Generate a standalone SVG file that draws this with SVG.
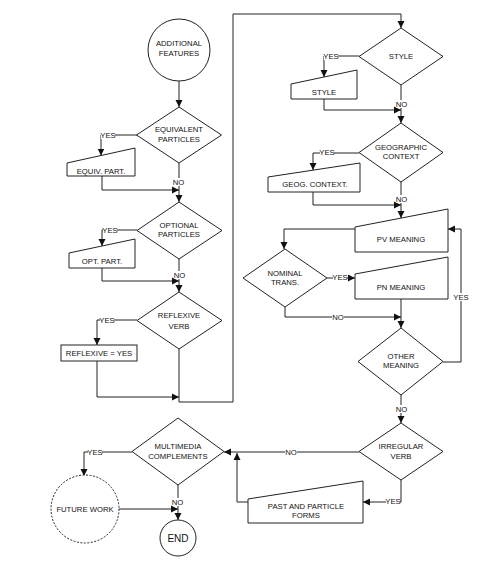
<svg xmlns="http://www.w3.org/2000/svg" width="481" height="561" viewBox="0 0 481 561">
<defs>
<marker id="arr" markerUnits="userSpaceOnUse" markerWidth="8" markerHeight="8" refX="7" refY="4" orient="auto">
<path d="M0,0.5 L7,4 L0,7.5 z" fill="#111"/>
</marker>
<style>
.s{fill:#fff;stroke:#222;stroke-width:1}
.d{fill:#fff;stroke:#222;stroke-width:1;stroke-dasharray:2,1.5}
.c{fill:none;stroke:#222;stroke-width:1;marker-end:url(#arr)}
.t{font-family:"Liberation Sans",Arial,sans-serif;font-size:7.7px;fill:#111;text-anchor:middle}
.e{font-size:10px}
.lb{fill:#fff}
</style>
</defs>
<rect width="481" height="561" fill="#fff"/>
<g id="connectors">
<path class="c" d="M179,81 V107"/>
<path class="c" d="M179,163 V202"/>
<path class="c" d="M137,135 H101 V155.5"/>
<path class="c" d="M102,176 V190 H179"/>
<path class="c" d="M137,230 H102 V246"/>
<path class="c" d="M102,268 V281 H179"/>
<path class="c" d="M179,259 V292"/>
<path class="c" d="M137,320 H97 V345"/>
<path class="c" d="M97,361 V397 H179"/>
<path class="c" d="M179,349 V402 H233 V14 H401 V28"/>
<path class="c" d="M359,56 H324 V77"/>
<path class="c" d="M324,99 V110 H401"/>
<path class="c" d="M401,85 V123"/>
<path class="c" d="M359,153 H313 V170"/>
<path class="c" d="M313,192 V205 H401"/>
<path class="c" d="M401,182 V218"/>
<path class="c" d="M355,229 H284 V249"/>
<path class="c" d="M327,278 H355"/>
<path class="c" d="M401,299 V328"/>
<path class="c" d="M285,307 V317 H401"/>
<path class="c" d="M443,362 H461 V229 H448"/>
<path class="c" d="M401,395 V423"/>
<path class="c" d="M359,452 H224"/>
<path class="c" d="M401,480 V502 H363"/>
<path class="c" d="M248,502 H237 V453"/>
<path class="c" d="M132,452 H84 V476"/>
<path class="c" d="M119,509 H178"/>
<path class="c" d="M178,484 V520"/>
<g id="labels">
<rect class="lb" x="101" y="131" width="14" height="8"/><text class="t" x="108" y="137.5">YES</text>
<rect class="lb" x="173" y="178" width="11" height="8"/><text class="t" x="178.5" y="184.5">NO</text>
<rect class="lb" x="103" y="226" width="14" height="8"/><text class="t" x="110" y="232.5">YES</text>
<rect class="lb" x="174" y="271" width="11" height="8"/><text class="t" x="179.5" y="277.5">NO</text>
<rect class="lb" x="100" y="316" width="14" height="8"/><text class="t" x="107" y="322.5">YES</text>
<rect class="lb" x="324" y="52" width="14" height="8"/><text class="t" x="331" y="58.5">YES</text>
<rect class="lb" x="396" y="100" width="11" height="8"/><text class="t" x="401.5" y="106.5">NO</text>
<rect class="lb" x="320" y="148" width="14" height="8"/><text class="t" x="327" y="154.5">YES</text>
<rect class="lb" x="396" y="195" width="11" height="8"/><text class="t" x="401.5" y="201.5">NO</text>
<rect class="lb" x="333" y="273" width="14" height="8"/><text class="t" x="340" y="279.5">YES</text>
<rect class="lb" x="332" y="313" width="12" height="8"/><text class="t" x="338" y="319.5">NO</text>
<rect class="lb" x="454" y="293" width="14" height="8"/><text class="t" x="461" y="299.5">YES</text>
<rect class="lb" x="396" y="405" width="11" height="8"/><text class="t" x="401.5" y="411.5">NO</text>
<rect class="lb" x="285" y="448" width="12" height="8"/><text class="t" x="291" y="454.5">NO</text>
<rect class="lb" x="386" y="497" width="14" height="8"/><text class="t" x="393" y="503.5">YES</text>
<rect class="lb" x="88" y="448" width="14" height="8"/><text class="t" x="95" y="454.5">YES</text>
<rect class="lb" x="172" y="498" width="11" height="8"/><text class="t" x="177.5" y="504.5">NO</text>
</g>
</g>
<g id="n-additional"><circle class="s" cx="179" cy="50" r="31"/><text class="t" x="179" y="46">ADDITIONAL</text><text class="t" x="179" y="56">FEATURES</text></g>
<g id="n-equivalent"><polygon class="s" points="179,107 221.5,135 179,163 136.5,135"/><text class="t" x="179" y="132">EQUIVALENT</text><text class="t" x="179" y="142">PARTICLES</text></g>
<g id="n-equivpart"><polygon class="s" points="67,163 135,148 135,176 67,176"/><text class="t" x="101" y="173.5">EQUIV. PART.</text></g>
<g id="n-optional"><polygon class="s" points="179,202 222,230.5 179,259 137,230.5"/><text class="t" x="179" y="228">OPTIONAL</text><text class="t" x="179" y="237">PARTICLES</text></g>
<g id="n-optpart"><polygon class="s" points="69,253 135,239 135,268 69,268"/><text class="t" x="102" y="263.5">OPT. PART.</text></g>
<g id="n-reflexive"><polygon class="s" points="179,292 222,320.5 179,349 137,320.5"/><text class="t" x="179" y="318">REFLEXIVE</text><text class="t" x="179" y="329">VERB</text></g>
<g id="n-reflexiveyes"><rect class="s" x="61" y="345" width="76" height="16"/><text class="t" x="99" y="355.5">REFLEXIVE = YES</text></g>
<g id="n-style"><polygon class="s" points="401,28 443,56.5 401,85 359,56.5"/><text class="t" x="401" y="59">STYLE</text></g>
<g id="n-stylein"><polygon class="s" points="291,84 357,70 357,99 291,99"/><text class="t" x="324" y="94.5">STYLE</text></g>
<g id="n-geographic"><polygon class="s" points="401,123 443,152.5 401,182 359,152.5"/><text class="t" x="401" y="150">GEOGRAPHIC</text><text class="t" x="401" y="159">CONTEXT</text></g>
<g id="n-geog"><polygon class="s" points="268,177 360,163 360,192 268,192"/><text class="t" x="315" y="187">GEOG. CONTEXT.</text></g>
<g id="n-pv"><polygon class="s" points="355,227 448,209 448,252 355,252"/><text class="t" x="401" y="242">PV MEANING</text></g>
<g id="n-nominal"><polygon class="s" points="285,249 327,278 285,307 243,278"/><text class="t" x="285" y="276">NOMINAL</text><text class="t" x="285" y="285">TRANS.</text></g>
<g id="n-pn"><polygon class="s" points="355,274 448,257 448,299 355,299"/><text class="t" x="401" y="290">PN MEANING</text></g>
<g id="n-other"><polygon class="s" points="401,328 443,361.5 401,395 358,361.5"/><text class="t" x="401" y="359">OTHER</text><text class="t" x="401" y="368">MEANING</text></g>
<g id="n-irregular"><polygon class="s" points="401,423 443,451.5 401,480 359,451.5"/><text class="t" x="401" y="449">IRREGULAR</text><text class="t" x="401" y="459">VERB</text></g>
<g id="n-past"><polygon class="s" points="248,499 363,481 363,523 248,523"/><text class="t" x="306" y="509">PAST AND PARTICLE</text><text class="t" x="306" y="518">FORMS</text></g>
<g id="n-multimedia"><polygon class="s" points="178,418 224,451.5 178,485 132,451.5"/><text class="t" x="178" y="449">MULTIMEDIA</text><text class="t" x="178" y="459">COMPLEMENTS</text></g>
<g id="n-future"><circle class="d" cx="85" cy="509" r="34"/><text class="t" x="85" y="511.5">FUTURE WORK</text></g>
<g id="n-end"><circle class="s" cx="178" cy="538" r="18"/><text class="t e" x="178" y="541.5">END</text></g>
</svg>
